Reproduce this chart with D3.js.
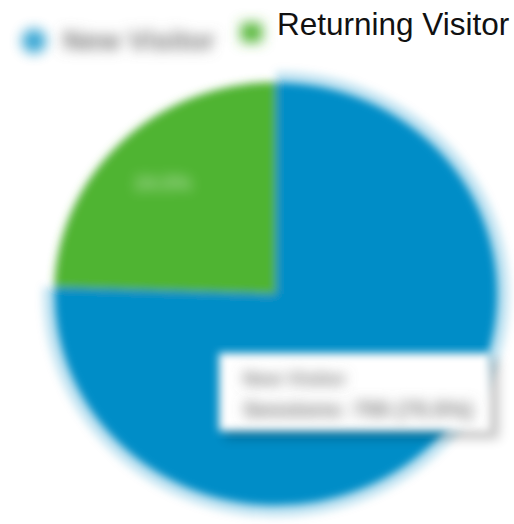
<!DOCTYPE html>
<html>
<head>
<meta charset="utf-8">
<script src="https://cdn.jsdelivr.net/npm/d3@7"></script>
<style>
    body { margin: 0; background: #fff; }
    text { font-family: "Liberation Sans", Arial, sans-serif; }
</style>
</head>
<body>
<div id="chart"></div>
<script>
// data
const categories = ["New Visitor", "Returning Visitor"];
const shares = [75.5, 24.5];
const sessions = [755, 245];
const colors = ["#058dc7", "#50b432"];

const width = 514;
const height = 524;

const svg = d3.select("#chart")
    .append("svg")
    .attr("width", width)
    .attr("height", height);

const defs = svg.append("defs");
defs.append("filter").attr("id", "soft")
    .attr("x", "-10%").attr("y", "-10%").attr("width", "120%").attr("height", "120%")
    .append("feGaussianBlur").attr("stdDeviation", 4.5);
defs.append("filter").attr("id", "smudge")
    .attr("filterUnits", "userSpaceOnUse")
    .attr("x", 0).attr("y", 0).attr("width", width).attr("height", height)
    .append("feGaussianBlur").attr("stdDeviation", 6.5);
defs.append("filter").attr("id", "shadow")
    .attr("x", "-20%").attr("y", "-30%").attr("width", "140%").attr("height", "160%")
    .append("feGaussianBlur").attr("stdDeviation", 6);

// legend
const legend = svg.append("g");

legend.append("circle")
    .attr("cx", 34)
    .attr("cy", 41)
    .attr("r", 12)
    .attr("fill", colors[0])
    .attr("opacity", 0.8)
    .attr("filter", "url(#smudge)");

legend.append("text")
    .attr("x", 63)
    .attr("y", 50)
    .attr("font-size", 28)
    .attr("font-weight", "bold")
    .attr("fill", "#777")
    .attr("filter", "url(#smudge)")
    .text(categories[0]);

legend.append("rect")
    .attr("x", 241)
    .attr("y", 23)
    .attr("width", 21)
    .attr("height", 19)
    .attr("fill", colors[1])
    .attr("filter", "url(#smudge)");

legend.append("text")
    .attr("x", 277)
    .attr("y", 35)
    .attr("font-size", 31.5)
    .attr("fill", "#111")
    .text(categories[1]);

// pie
const cx = 276, cy = 294, r = 222;

const pie = d3.pie()
    .sort(null)
    .value(d => d);

const arcs = pie(shares);

const arc = d3.arc()
    .innerRadius(0)
    .outerRadius(r);

const ring = d3.arc()
    .innerRadius(r + 2)
    .outerRadius(r + 11);

const labelArc = d3.arc()
    .innerRadius(r * 0.73)
    .outerRadius(r * 0.73);

const g = svg.append("g")
    .attr("transform", `translate(${cx},${cy}) scale(1,0.955)`)
    .attr("filter", "url(#soft)");

g.selectAll(".slice")
    .data(arcs)
    .enter()
    .append("path")
    .attr("class", "slice")
    .attr("d", arc)
    .attr("fill", (d, i) => colors[i]);

// hover ring on the first slice
g.append("path")
    .attr("d", ring(arcs[0]))
    .attr("fill", colors[0])
    .attr("opacity", 0.25);

// slice label (green one, the blue one sits under the tooltip)
const [lx, ly] = labelArc.centroid(arcs[1]);
svg.append("text")
    .attr("x", cx + lx)
    .attr("y", cy + ly * 0.955)
    .attr("text-anchor", "middle")
    .attr("dy", "0.35em")
    .attr("font-size", 20)
    .attr("font-weight", "bold")
    .attr("fill", "#fff")
    .attr("opacity", 0.55)
    .attr("filter", "url(#smudge)")
    .text(d3.format(".1f")(shares[1]) + "%");

// tooltip
const tip = svg.append("g").attr("transform", "translate(219,353)");

tip.append("rect")
    .attr("x", 6)
    .attr("y", 6)
    .attr("width", 274)
    .attr("height", 80)
    .attr("fill", "#000")
    .attr("opacity", 0.22)
    .attr("filter", "url(#shadow)");

tip.append("rect")
    .attr("width", 271)
    .attr("height", 78)
    .attr("fill", "#fff")
    .attr("filter", "url(#soft)");

tip.append("text")
    .attr("x", 24)
    .attr("y", 32)
    .attr("font-size", 19)
    .attr("font-weight", "bold")
    .attr("fill", "#777")
    .attr("filter", "url(#smudge)")
    .text(categories[0]);

tip.append("text")
    .attr("x", 24)
    .attr("y", 64)
    .attr("font-size", 22)
    .attr("font-weight", "bold")
    .attr("fill", "#777")
    .attr("filter", "url(#smudge)")
    .text(`Sessions: ${sessions[0]} (${d3.format(".1f")(shares[0])}%)`);
</script>
</body>
</html>
